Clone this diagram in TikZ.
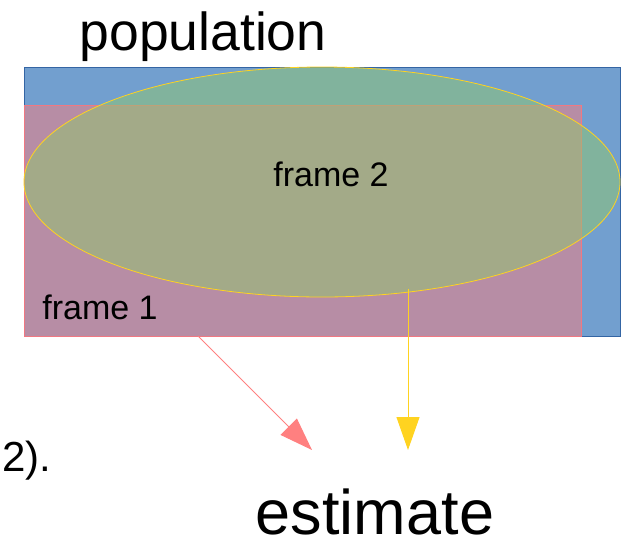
\documentclass[tikz,border=0pt]{standalone}
\usepackage{fontspec}
\setmainfont{Liberation Sans}
\usetikzlibrary{shapes.geometric,arrows.meta}
\definecolor{popblue}{RGB}{114,159,207}
\definecolor{popborder}{RGB}{52,101,164}
\definecolor{fpink}{RGB}{253,124,124}
\definecolor{fpinkline}{RGB}{240,120,130}
\definecolor{fyellow}{RGB}{144,200,109}
\definecolor{yline}{RGB}{255,211,32}
\definecolor{arrpink}{RGB}{255,128,128}
\tikzset{
  shapebox/.style={inner sep=0pt, outer sep=0pt, line width=0.8pt},
  lbl/.style={inner sep=0pt, anchor=base, text=black},
  pinkarrow/.style={draw=arrpink, line width=1pt, -{Triangle[length=33pt,width=23pt]}},
  yellowarrow/.style={draw=yline, line width=1pt, -{Triangle[length=33pt,width=23pt]}},
}
\begin{document}
\begin{tikzpicture}[x=1pt,y=-1pt]
\useasboundingbox (0,0) rectangle (623,539);
% population rectangle
\node[shapebox, rectangle, draw=popborder, fill=popblue, minimum width=596pt, minimum height=269pt, anchor=north west] (pop) at (24,67) {};
% frame 1
\node[shapebox, rectangle, draw=fpinkline, fill=fpink, fill opacity=0.5, minimum width=557pt, minimum height=231pt, anchor=north west] (f1) at (24,105) {};
% frame 2
\node[shapebox, ellipse, draw=yline, fill=fyellow, fill opacity=0.5, minimum width=596pt, minimum height=230pt] (f2) at (322,182) {};
% labels
\node[lbl, font=\fontsize{53.5}{53.5}\selectfont] (poplbl) at (203,50) {population};
\node[lbl, font=\fontsize{34}{34}\selectfont] (f2lbl) at (331,186) {frame 2};
\node[lbl, font=\fontsize{34}{34}\selectfont] (f1lbl) at (100,319) {frame 1};
\node[lbl, anchor=base west, font=\fontsize{42}{42}\selectfont] (cut) at (2,471) {2).};
\node[lbl, font=\fontsize{63}{63}\selectfont] (est) at (375,534) {estimate};
% arrow ends
\coordinate (p0) at (198,336);
\coordinate (p1) at (312,450);
\coordinate (y0) at (408,289);
\coordinate (y1) at (408,450);
\draw[pinkarrow] (p0) -- (p1);
\draw[yellowarrow] (y0) -- (y1);
\end{tikzpicture}
\end{document}
